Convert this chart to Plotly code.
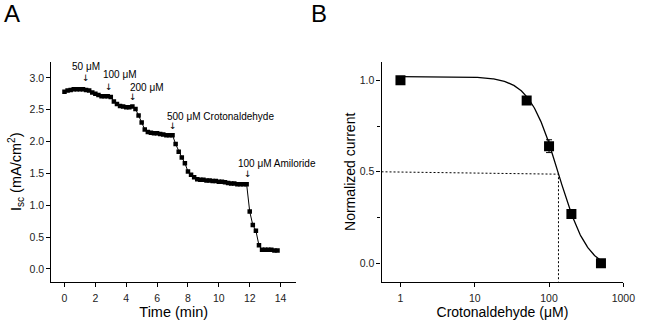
import numpy as np
import plotly.graph_objects as go

# ---------------- Panel A data ----------------
time_min = [0.0, 0.2, 0.4, 0.6, 0.8, 1.0, 1.2, 1.4, 1.6, 1.8,
            2.0, 2.2, 2.4, 2.6, 2.8, 3.0, 3.2, 3.4, 3.6, 3.8,
            4.0, 4.2, 4.4, 4.6, 4.8, 5.0, 5.2, 5.4, 5.6, 5.8,
            6.0, 6.2, 6.4, 6.6, 6.8, 7.0, 7.2, 7.4, 7.6, 7.8,
            8.0, 8.2, 8.4, 8.6, 8.8, 9.0, 9.2, 9.4, 9.6, 9.8,
            10.0, 10.2, 10.4, 10.6, 10.8, 11.0, 11.2, 11.4, 11.6, 11.8,
            12.0, 12.2, 12.4, 12.6, 12.8, 13.0, 13.2, 13.4, 13.6, 13.8]
isc = [2.78, 2.80, 2.81, 2.82, 2.82, 2.82, 2.82, 2.81, 2.80, 2.77,
       2.75, 2.73, 2.71, 2.71, 2.71, 2.70, 2.63, 2.59, 2.56, 2.55,
       2.54, 2.54, 2.55, 2.51, 2.41, 2.30, 2.19, 2.15, 2.14, 2.13,
       2.13, 2.12, 2.11, 2.10, 2.10, 2.10, 1.96, 1.84, 1.75, 1.66,
       1.53, 1.48, 1.44, 1.41, 1.40, 1.40, 1.39, 1.39, 1.38, 1.38,
       1.37, 1.37, 1.36, 1.35, 1.34, 1.34, 1.33, 1.33, 1.33, 1.33,
       0.90, 0.69, 0.60, 0.37, 0.30, 0.30, 0.30, 0.30, 0.29, 0.29]

# additions: label, time of arrow, arrow tip value, label x, label y, anchor
add_labels = ["50 \u03bcM", "100 \u03bcM", "200 \u03bcM",
              "500 \u03bcM Crotonaldehyde", "100 \u03bcM Amiloride"]
add_times = [1.37, 2.88, 4.47, 7.0, 11.92]
add_tip = [2.94, 2.80, 2.64, 2.18, 1.42]
label_x = [1.42, 2.37, 4.09, 6.52, 11.13]
label_y = [3.18, 3.06, 2.85, 2.40, 1.66]
label_anchor = ["center", "left", "left", "left", "left"]

# ---------------- Panel B data ----------------
conc_uM = [1, 50, 100, 200, 500]
norm_current = [1.00, 0.89, 0.64, 0.27, 0.00]
norm_err = [0, 0, 0.035, 0, 0]

# Hill fit parameters
fit_top = 1.02
fit_bottom = -0.04
fit_ic50 = 134.0
fit_n = 2.2
half_level = 0.487

xa_ticks = [0, 2, 4, 6, 8, 10, 12, 14]
ya_ticks = [0.0, 0.5, 1.0, 1.5, 2.0, 2.5, 3.0]
xb_ticks = [1, 10, 100, 1000]
yb_ticks = [0.0, 0.5, 1.0]

FONT = "Arial, Liberation Sans, sans-serif"

fig = go.Figure()

fig.add_trace(go.Scatter(
    x=time_min, y=isc, mode="lines+markers",
    line=dict(color="black", width=1),
    marker=dict(symbol="square", size=4.5, color="black"),
    xaxis="x", yaxis="y", showlegend=False))

# fit curve
xf = np.logspace(0, np.log10(520), 300)
yf = fit_bottom + (fit_top - fit_bottom) / (1 + (xf / fit_ic50) ** fit_n)
fig.add_trace(go.Scatter(
    x=xf, y=yf, mode="lines", line=dict(color="black", width=1.3),
    xaxis="x2", yaxis="y2", showlegend=False))

# IC50 guide lines
xmin_b = 10 ** -0.255
fig.add_trace(go.Scatter(
    x=[xmin_b, fit_ic50, fit_ic50], y=[0.5, half_level, -0.1], mode="lines",
    line=dict(color="black", width=1, dash="2px,2px"),
    xaxis="x2", yaxis="y2", showlegend=False))

fig.add_trace(go.Scatter(
    x=conc_uM, y=norm_current, mode="markers",
    marker=dict(symbol="square", size=10, color="black"),
    error_y=dict(type="data", array=norm_err, color="black", thickness=1, width=3),
    xaxis="x2", yaxis="y2", showlegend=False))

axis_common = dict(
    showline=True, linecolor="black", linewidth=1.2, mirror=False,
    ticks="outside", ticklen=4, tickwidth=1, tickcolor="black",
    showgrid=False, zeroline=False,
    tickfont=dict(family=FONT, size=10.5, color="#222"),
)

fig.update_layout(
    width=650, height=326,
    margin=dict(l=0, r=0, t=0, b=0),
    paper_bgcolor="white", plot_bgcolor="white",
    font=dict(family=FONT, color="black"),
    xaxis=dict(domain=[0.0805, 0.464], range=[-0.85, 15], tickvals=xa_ticks,
               ticklabelstandoff=3,
               title=dict(text="Time (min)", font=dict(size=14.5), standoff=0),
               anchor="y", **axis_common),
    yaxis=dict(domain=[0.136, 0.81], range=[-0.2, 3.25], tickvals=ya_ticks,
               tickformat=".1f",
               title=dict(text="I<sub>sc</sub> (mA/cm<sup>2</sup>)", font=dict(size=14.5), standoff=4),
               anchor="x", **axis_common),
    xaxis2=dict(domain=[0.598, 0.977], type="log", range=[-0.255, 3.0],
                tickvals=xb_ticks, ticktext=[str(v) for v in xb_ticks],
                ticklabelstandoff=3,
                title=dict(text="Crotonaldehyde (\u03bcM)", font=dict(size=14), standoff=0),
                anchor="y2", **axis_common),
    yaxis2=dict(domain=[0.136, 0.81], range=[-0.1, 1.1], tickvals=yb_ticks,
                tickformat=".1f",
                minor=dict(dtick=0.25, ticks="outside", ticklen=3, tickcolor="black"),
                title=dict(text="Normalized current", font=dict(size=14), standoff=0),
                anchor="x2", **axis_common),
)

annotations = []
for lab, t, tip, lx, ly, anc in zip(add_labels, add_times, add_tip, label_x, label_y, label_anchor):
    annotations.append(dict(x=t, y=tip, xref="x", yref="y", text="\u2193", showarrow=False,
                            xanchor="center", yanchor="bottom", yshift=-3,
                            font=dict(family="DejaVu Sans", size=9, color="black")))
    annotations.append(dict(x=lx, y=ly, xref="x", yref="y", text=lab, showarrow=False,
                            xanchor=anc, yanchor="middle",
                            font=dict(family=FONT, size=10, color="black")))

annotations.append(dict(x=12 / 650, y=1 - 14 / 326, xref="paper", yref="paper", text="A",
                        showarrow=False, xanchor="center", yanchor="middle",
                        font=dict(family=FONT, size=24, color="black")))
annotations.append(dict(x=325 / 650, y=1 - 14 / 326, xref="paper", yref="paper", text="B",
                        showarrow=False, xanchor="center", yanchor="middle",
                        font=dict(family=FONT, size=24, color="black")))
fig.update_layout(annotations=annotations)

fig.write_html("out.html",
               config={"displayModeBar": False},
               post_script="document.body.style.margin='0';document.body.style.padding='0';")
